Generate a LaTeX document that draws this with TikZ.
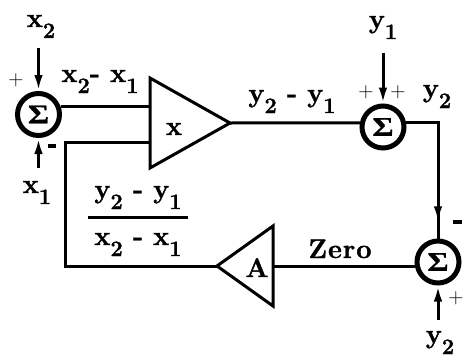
\documentclass[tikz,border=0pt]{standalone}
\usepackage{fontspec}
\setmainfont{Latin Modern Roman}[BoldFeatures={FakeBold=1.3}]
\newfontfamily\gfont{Liberation Serif}[BoldFeatures={FakeBold=0.8}]
\usetikzlibrary{arrows.meta,decorations.markings}
\newcommand\lo[1]{\raisebox{-11pt}{\fontsize{22}{22}\selectfont #1}}
\newcommand\sigmark{\scalebox{1.2}[1]{\fontsize{27}{27}\selectfont\gfont\bfseries Σ}}
\begin{document}
\begin{tikzpicture}[x=1pt,y=-1pt,
  every node/.style={font=\fontsize{27}{29}\selectfont\bfseries, inner sep=0pt},
  sumnode/.style={circle, draw, line width=5pt, minimum size=42pt},
  wire/.style={line width=3pt},
  feed/.style={line width=3pt, -{Latex[length=16pt,width=8.5pt]}},
  sign/.style={font=\fontsize{21}{21}\selectfont\mdseries},
  amp/.style={line width=3pt, line join=miter},
  lab/.style={anchor=base}
]
\useasboundingbox (0,0) rectangle (466,364);
% summing junctions
\node[sumnode] (s1) at (38.5,114.5) {\sigmark};
\node[sumnode] (s2) at (383,127) {\sigmark};
\node[sumnode] (s3) at (438,262) {\sigmark};
% amplifier x
\coordinate (xt) at (150,78);
\coordinate (xb) at (150,168);
\coordinate (xa) at (230,123);
\coordinate (xin2) at (150,142);
\draw[amp] (xt) -- (xa) -- (xb) -- cycle;
\node[lab] (xg) at (174,135) {x};
% amplifier A
\coordinate (at) at (273,226);
\coordinate (ab) at (273,306);
\coordinate (aa) at (217,266);
\draw[amp] (at) -- (aa) -- (ab) -- cycle;
\node[lab] (ag) at (257,277) {A};
% wires
\draw[wire] (s1.20) -- (s1.20 -| xt);
\draw[wire] (xa) -- (s2.170);
\draw[wire, postaction=decorate,
  decoration={markings, mark=at position 0.89 with {\arrow{Latex[length=16pt,width=8.5pt]}}}]
  (s2.10) -| (s3.north);
\draw[wire] (s3.190) -- (s3.190 -| at);
\coordinate (fb) at (65,266);
\draw[wire] (aa) -- (fb) |- (xin2);
% inputs
\coordinate (x2s) at (38.5,48);
\coordinate (x1s) at (38.5,168);
\coordinate (y1s) at (383,53);
\coordinate (y2s) at (438,320);
\draw[feed] (x2s) -- (s1.north);
\draw[feed] (x1s) -- (s1.south);
\draw[feed] (y1s) -- (s2.north);
\draw[feed] (y2s) -- (s3.south);
% labels
\node[lab] (lx2) at (41,27) {x\lo2};
\node[sign] (p1) at (16,80) {+};
\node[sign] (m1) at (52,146) {\rule{9pt}{3.5pt}};
\node[lab] (l21) at (100,82) {x\lo2- x\lo1};
\node[lab] (lx1) at (37,193) {x\lo1};
\node[lab] (num) at (138,198) {y\lo2 - y\lo1};
\node (bar) at (138,217) {\rule{100pt}{3pt}};
\node[lab] (den) at (138,245) {x\lo2 - x\lo1};
\node[lab] (ly21) at (292,102) {y\lo2 - y\lo1};
\node[lab] (ly1) at (383,28) {y\lo1};
\node[sign] (p2) at (366,92) {+};
\node[sign] (p3) at (398,92) {+};
\node[lab] (ly2a) at (437,97) {y\lo2};
\node[lab] (zero) at (340,258) {Z\kern1pt e\kern1pt r\kern1pt o};
\node[sign] (m3) at (457,222) {\rule{9pt}{3.5pt}};
\node[sign] (p4) at (456,298) {+};
\node[lab] (ly2b) at (440,343) {y\lo2};
\end{tikzpicture}
\end{document}
